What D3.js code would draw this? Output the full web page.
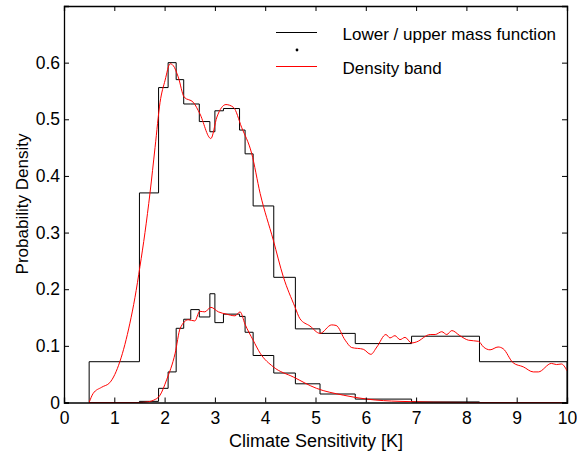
<!DOCTYPE html>
<meta charset="utf-8">
<head>
<style>
  body { margin: 0; background: #fff; }
  text { font-family: "Liberation Sans", Arial, sans-serif; fill: #000; }
</style>
<script src="https://d3js.org/d3.v7.min.js"></script>
</head>
<body>
<div id="chart"></div>
<script>
// bin edges shared by both mass functions
var edges = [0.5, 1.5, 1.88, 2.07, 2.23, 2.38, 2.52, 2.69, 2.9, 3.0, 3.17, 3.49, 3.6, 3.76, 4.17, 4.6, 5.09, 5.79, 6.91, 8.26, 10];
var upperMass = [0.072, 0.37, 0.556, 0.6, 0.57, 0.527, 0.527, 0.496, 0.478, 0.515, 0.519, 0.481, 0.439, 0.347, 0.221, 0.130, 0.122, 0.104, 0.117, 0.072];
var lowerMass = [0, 0.002, 0.025, 0.054, 0.131, 0.147, 0.164, 0.151, 0.192, 0.141, 0.156, 0.152, 0.124, 0.083, 0.052, 0.033, 0.015, 0.006, 0.001, 0];

// density band, upper curve
var upperX = [0.5, 0.58, 0.75, 0.91, 1.11, 1.31, 1.41, 1.51, 1.61, 1.71, 1.81, 1.91, 2.01, 2.11, 2.17, 2.27, 2.39, 2.57, 2.70, 2.92, 3.04, 3.22, 3.37, 3.53, 3.73, 3.9, 4.16, 4.36, 4.59, 4.69, 4.89, 5.09, 5.32, 5.41, 5.59, 5.72, 5.95, 6.10, 6.22, 6.40, 6.48, 6.58, 6.68, 6.78, 6.91, 7.01, 7.28, 7.38, 7.51, 7.61, 7.71, 7.87, 8.04, 8.24, 8.34, 8.47, 8.63, 8.73, 8.93, 9.13, 9.33, 9.43, 9.69, 9.79, 9.89, 10];
var upperY = [0, 0.016, 0.027, 0.035, 0.072, 0.14, 0.185, 0.24, 0.30, 0.37, 0.45, 0.53, 0.569, 0.598, 0.595, 0.575, 0.539, 0.53, 0.51, 0.466, 0.504, 0.526, 0.521, 0.486, 0.44, 0.369, 0.287, 0.222, 0.169, 0.148, 0.135, 0.122, 0.137, 0.136, 0.110, 0.097, 0.094, 0.085, 0.098, 0.12, 0.114, 0.118, 0.111, 0.115, 0.105, 0.107, 0.12, 0.12, 0.125, 0.12, 0.127, 0.118, 0.110, 0.108, 0.098, 0.093, 0.098, 0.095, 0.070, 0.063, 0.054, 0.054, 0.069, 0.067, 0.068, 0.056];

// density band, lower curve
var lowerX = [0.5, 1.5, 1.65, 1.78, 1.91, 2.04, 2.21, 2.31, 2.47, 2.60, 2.70, 2.80, 2.92, 3.07, 3.23, 3.40, 3.5, 3.60, 3.76, 3.9, 4.16, 4.56, 5.02, 5.55, 6.02, 6.68, 8, 10];
var lowerY = [0, 0, 0.001, 0.004, 0.013, 0.04, 0.087, 0.131, 0.146, 0.144, 0.161, 0.16, 0.168, 0.16, 0.156, 0.153, 0.16, 0.138, 0.110, 0.087, 0.063, 0.045, 0.025, 0.013, 0.006, 0.002, 0, 0];

var xTicks = d3.range(0, 11);
var yTicks = [0, 0.1, 0.2, 0.3, 0.4, 0.5, 0.6];

var W = 577, H = 453;
var margin = { top: 6, right: 10, bottom: 50, left: 64 };
var width = 567 - margin.left, height = 402.5 - margin.top;

var svg = d3.select("#chart").append("svg")
    .attr("width", W).attr("height", H);
var g = svg.append("g")
    .attr("transform", "translate(" + margin.left + "," + margin.top + ")");

var x = d3.scaleLinear().domain([0, 10]).range([0, width]);
var y = d3.scaleLinear().domain([0, 0.7]).range([height, 0]);

function steps(vals) {
    var pts = [[edges[0], 0]];
    vals.forEach(function (v, i) {
        pts.push([edges[i], v]);
        pts.push([edges[i + 1], v]);
    });
    pts.push([edges[edges.length - 1], 0]);
    return pts;
}

var line = d3.line()
    .x(function (d) { return x(d[0]); })
    .y(function (d) { return y(d[1]); });

g.append("path").attr("d", line(steps(upperMass)))
    .attr("fill", "none").attr("stroke", "#000").attr("stroke-width", 1);
g.append("path").attr("d", line(steps(lowerMass)))
    .attr("fill", "none").attr("stroke", "#000").attr("stroke-width", 1);

var smooth = d3.line()
    .x(function (d) { return x(d[0]); })
    .y(function (d) { return y(d[1]); })
    .curve(d3.curveMonotoneX);

g.append("path").attr("d", smooth(d3.zip(upperX, upperY)))
    .attr("fill", "none").attr("stroke", "#ff0000").attr("stroke-width", 1);
g.append("path").attr("d", smooth(d3.zip(lowerX, lowerY)))
    .attr("fill", "none").attr("stroke", "#ff0000").attr("stroke-width", 1);

// axes with inward ticks on all four sides
var tk = 5;
var axB = g.append("g").attr("transform", "translate(0," + height + ")")
    .call(d3.axisBottom(x).tickValues(xTicks).tickSize(-tk).tickPadding(9).tickFormat(d3.format("d")));
var axT = g.append("g")
    .call(d3.axisTop(x).tickValues(xTicks).tickSize(-tk).tickFormat(""));
var axL = g.append("g")
    .call(d3.axisLeft(y).tickValues(yTicks).tickSize(-tk).tickPadding(4).tickFormat(function (d) { return d === 0 ? "0" : d3.format(".1f")(d); }));
var axR = g.append("g").attr("transform", "translate(" + width + ",0)")
    .call(d3.axisRight(y).tickValues(yTicks).tickSize(-tk).tickFormat(""));

[axB, axT, axL, axR].forEach(function (a) {
    a.select(".domain").attr("stroke", "#000").attr("stroke-width", 1.3);
    a.selectAll(".tick line").attr("stroke", "#000");
    a.selectAll("text").style("font-size", "17.5px").attr("fill", "#000")
        .style("font-family", "'Liberation Sans', Arial, sans-serif");
});

svg.append("text")
    .attr("x", 316).attr("y", 446.5)
    .attr("text-anchor", "middle").style("font-size", "18px")
    .text("Climate Sensitivity [K]");

svg.append("text")
    .attr("transform", "translate(27.5,204) rotate(-90)")
    .attr("text-anchor", "middle").style("font-size", "17px")
    .text("Probability Density");

// legend
var leg = svg.append("g");
leg.append("line").attr("x1", 276).attr("x2", 317).attr("y1", 32.5).attr("y2", 32.5)
    .attr("stroke", "#000").attr("stroke-width", 1);
leg.append("circle").attr("cx", 297).attr("cy", 50).attr("r", 1.4).attr("fill", "#000");
leg.append("line").attr("x1", 276).attr("x2", 317).attr("y1", 66.5).attr("y2", 66.5)
    .attr("stroke", "#ff0000").attr("stroke-width", 1);
leg.append("text").attr("x", 342.5).attr("y", 40).style("font-size", "17px")
    .text("Lower / upper mass function");
leg.append("text").attr("x", 342.5).attr("y", 74.3).style("font-size", "17px")
    .text("Density band");
</script>
</body>
